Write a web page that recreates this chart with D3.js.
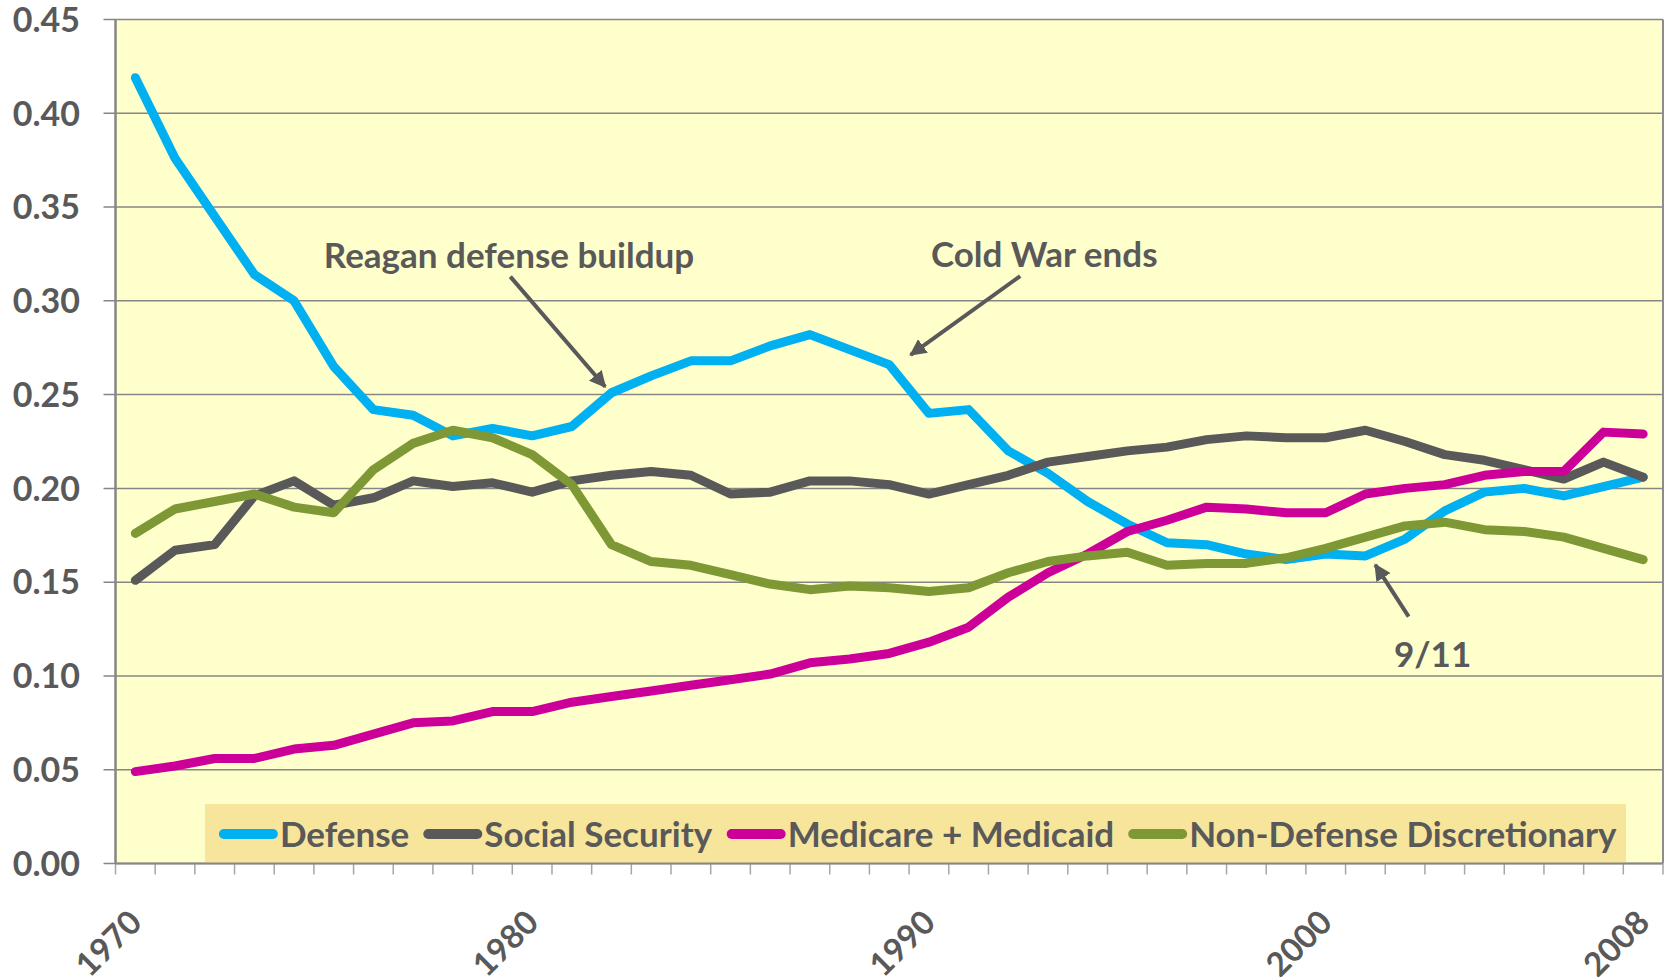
<!DOCTYPE html>
<meta charset="utf-8">
<style>
body { margin: 0; background: #fff; }
svg text { font-family: Lato, "Open Sans", sans-serif; font-weight: bold; fill: #595959; }
.grid line { stroke: #868686; stroke-width: 1.5px; }
.series { fill: none; stroke-width: 9px; stroke-linejoin: round; stroke-linecap: round; }
</style>
<svg width="1669" height="977"></svg>
<script src="https://d3js.org/d3.v7.min.js"></script>
<script>
var years = d3.range(1970, 2009);
var yearLabels = [1970, 1980, 1990, 2000, 2008];
var yTicks = [0, 0.05, 0.10, 0.15, 0.20, 0.25, 0.30, 0.35, 0.40, 0.45];

var defense = [0.419, 0.376, 0.345, 0.314, 0.300, 0.265, 0.242, 0.239, 0.228, 0.232,
    0.228, 0.233, 0.251, 0.260, 0.268, 0.268, 0.276, 0.282, 0.274, 0.266,
    0.240, 0.242, 0.220, 0.208, 0.193, 0.181, 0.171, 0.170, 0.165, 0.162,
    0.165, 0.164, 0.173, 0.188, 0.198, 0.200, 0.196, 0.201, 0.206];
var socialSecurity = [0.151, 0.167, 0.170, 0.196, 0.204, 0.191, 0.195, 0.204, 0.201, 0.203,
    0.198, 0.204, 0.207, 0.209, 0.207, 0.197, 0.198, 0.204, 0.204, 0.202,
    0.197, 0.202, 0.207, 0.214, 0.217, 0.220, 0.222, 0.226, 0.228, 0.227,
    0.227, 0.231, 0.225, 0.218, 0.215, 0.210, 0.205, 0.214, 0.206];
var medicare = [0.049, 0.052, 0.056, 0.056, 0.061, 0.063, 0.069, 0.075, 0.076, 0.081,
    0.081, 0.086, 0.089, 0.092, 0.095, 0.098, 0.101, 0.107, 0.109, 0.112,
    0.118, 0.126, 0.142, 0.155, 0.165, 0.177, 0.183, 0.190, 0.189, 0.187,
    0.187, 0.197, 0.200, 0.202, 0.207, 0.209, 0.209, 0.230, 0.229];
var nonDefense = [0.176, 0.189, 0.193, 0.197, 0.190, 0.187, 0.210, 0.224, 0.231, 0.227,
    0.218, 0.202, 0.170, 0.161, 0.159, 0.154, 0.149, 0.146, 0.148, 0.147,
    0.145, 0.147, 0.155, 0.161, 0.164, 0.166, 0.159, 0.160, 0.160, 0.163,
    0.168, 0.174, 0.180, 0.182, 0.178, 0.177, 0.174, 0.168, 0.162];

var seriesNames = ["Defense", "Social Security", "Medicare + Medicaid", "Non-Defense Discretionary"];
var seriesColors = ["#00b0f0", "#595959", "#cc0099", "#7d9834"];
var seriesValues = [defense, socialSecurity, medicare, nonDefense];

// annotations: text position and arrow, in data space (year, value)
var notes = [
    {text: "Reagan defense buildup", tx: 1974.75, ty: 0.3175, x1: 1979.45, y1: 0.3129, x2: 1981.84, y2: 0.2542},
    {text: "Cold War ends", tx: 1990.05, ty: 0.318, x1: 1992.3, y1: 0.3132, x2: 1989.54, y2: 0.2712},
    {text: "9/11", tx: 2001.72, ty: 0.1046, x1: 2002.09, y1: 0.1316, x2: 2001.25, y2: 0.1592}
];

var svg = d3.select("svg");
var pLeft = 115.5, pRight = 1663, pTop = 19.5, pBottom = 863.5;

var xBand = d3.scaleBand().domain(years).range([pLeft, pRight]);
var half = xBand.bandwidth() / 2;
var xScale = d3.scaleLinear().domain([1970, 2008]).range([pLeft + half, pRight - half]);
var yScale = d3.scaleLinear().domain([0, 0.45]).range([pBottom, pTop]);

svg.append("rect")
    .attr("x", pLeft).attr("y", pTop)
    .attr("width", pRight - pLeft).attr("height", pBottom - pTop)
    .attr("fill", "#ffffcc");

// grid + y axis ticks
svg.append("g")
    .attr("class", "grid")
    .selectAll("line")
    .data(yTicks)
    .enter().append("line")
    .attr("x1", pLeft - 12).attr("x2", pRight)
    .attr("y1", function(d) { return yScale(d); })
    .attr("y2", function(d) { return yScale(d); });

svg.append("g")
    .selectAll("text")
    .data(yTicks)
    .enter().append("text")
    .attr("x", 80)
    .attr("y", function(d) { return yScale(d); })
    .attr("dy", "0.36em")
    .attr("text-anchor", "end")
    .style("font-size", "34px")
    .text(d3.format(".2f"));

// right border
svg.append("line")
    .attr("x1", pRight).attr("x2", pRight)
    .attr("y1", pTop).attr("y2", pBottom)
    .style("stroke", "#8c8c8c").style("stroke-width", 2);

// x ticks between categories
var xTickPos = years.map(function(y) { return xBand(y); }).concat([pRight]);
svg.append("g")
    .selectAll("line")
    .data(xTickPos)
    .enter().append("line")
    .attr("x1", function(d) { return d; }).attr("x2", function(d) { return d; })
    .attr("y1", pBottom).attr("y2", pBottom + 11)
    .style("stroke", "#a6a6a6").style("stroke-width", 1.5);

svg.append("g")
    .selectAll("text")
    .data(yearLabels)
    .enter().append("text")
    .attr("transform", function(d) { return "translate(" + xScale(d) + ",916) rotate(-45)"; })
    .attr("text-anchor", "end")
    .attr("dy", "0.36em")
    .style("font-size", "33px")
    .text(function(d) { return d; });

// series
var line = d3.line()
    .x(function(d, i) { return xScale(years[i]); })
    .y(function(d) { return yScale(d); });

svg.append("g")
    .selectAll("path")
    .data(seriesValues)
    .enter().append("path")
    .attr("class", "series")
    .style("stroke", function(d, i) { return seriesColors[i]; })
    .attr("d", line);

// legend
var legend = svg.append("g");
legend.append("rect")
    .attr("x", 205).attr("y", 804)
    .attr("width", 1421).attr("height", pBottom - 804)
    .attr("fill", "#f8e59c");

var legendItems = legend.selectAll("g")
    .data(seriesNames)
    .enter().append("g");
legendItems.append("line")
    .attr("x1", 5).attr("x2", 54)
    .attr("y1", 0).attr("y2", 0)
    .style("stroke", function(d, i) { return seriesColors[i]; })
    .style("stroke-width", 10).style("stroke-linecap", "round");
legendItems.append("text")
    .attr("x", 61)
    .attr("y", 0)
    .attr("dy", "0.36em")
    .style("font-size", "35px")
    .text(function(d) { return d; });

var widths = [];
legendItems.each(function() { widths.push(this.getBBox().width); });
var gap = 19;
var total = d3.sum(widths) + gap * (widths.length - 1);
var cx = 205 + (1421 - total) / 2;
legendItems.attr("transform", function(d, i) {
    var x = cx;
    cx += widths[i] + gap;
    return "translate(" + x + ",834)";
});

// left axis line and bottom axis line
svg.append("line")
    .attr("x1", pLeft).attr("x2", pLeft).attr("y1", pTop).attr("y2", pBottom)
    .style("stroke", "#868686").style("stroke-width", 2.5);
svg.append("line")
    .attr("x1", pLeft).attr("x2", pRight).attr("y1", pBottom).attr("y2", pBottom)
    .style("stroke", "#868686").style("stroke-width", 2);

// annotations
svg.append("defs").append("marker")
    .attr("id", "arrow")
    .attr("viewBox", "0 0 10 10")
    .attr("refX", 9).attr("refY", 5)
    .attr("markerWidth", 4.2).attr("markerHeight", 4.2)
    .attr("markerUnits", "strokeWidth")
    .attr("orient", "auto")
    .append("path")
    .attr("d", "M0,0 L10,5 L0,10 z")
    .attr("fill", "#595959");

var noteG = svg.append("g").selectAll("g").data(notes).enter().append("g");
noteG.append("line")
    .attr("x1", function(d) { return xScale(d.x1); })
    .attr("y1", function(d) { return yScale(d.y1); })
    .attr("x2", function(d) { return xScale(d.x2); })
    .attr("y2", function(d) { return yScale(d.y2); })
    .style("stroke", "#595959").style("stroke-width", 4)
    .attr("marker-end", "url(#arrow)");
noteG.append("text")
    .attr("x", function(d) { return xScale(d.tx); })
    .attr("y", function(d) { return yScale(d.ty); })
    .style("font-size", "35px")
    .text(function(d) { return d.text; });
</script>
